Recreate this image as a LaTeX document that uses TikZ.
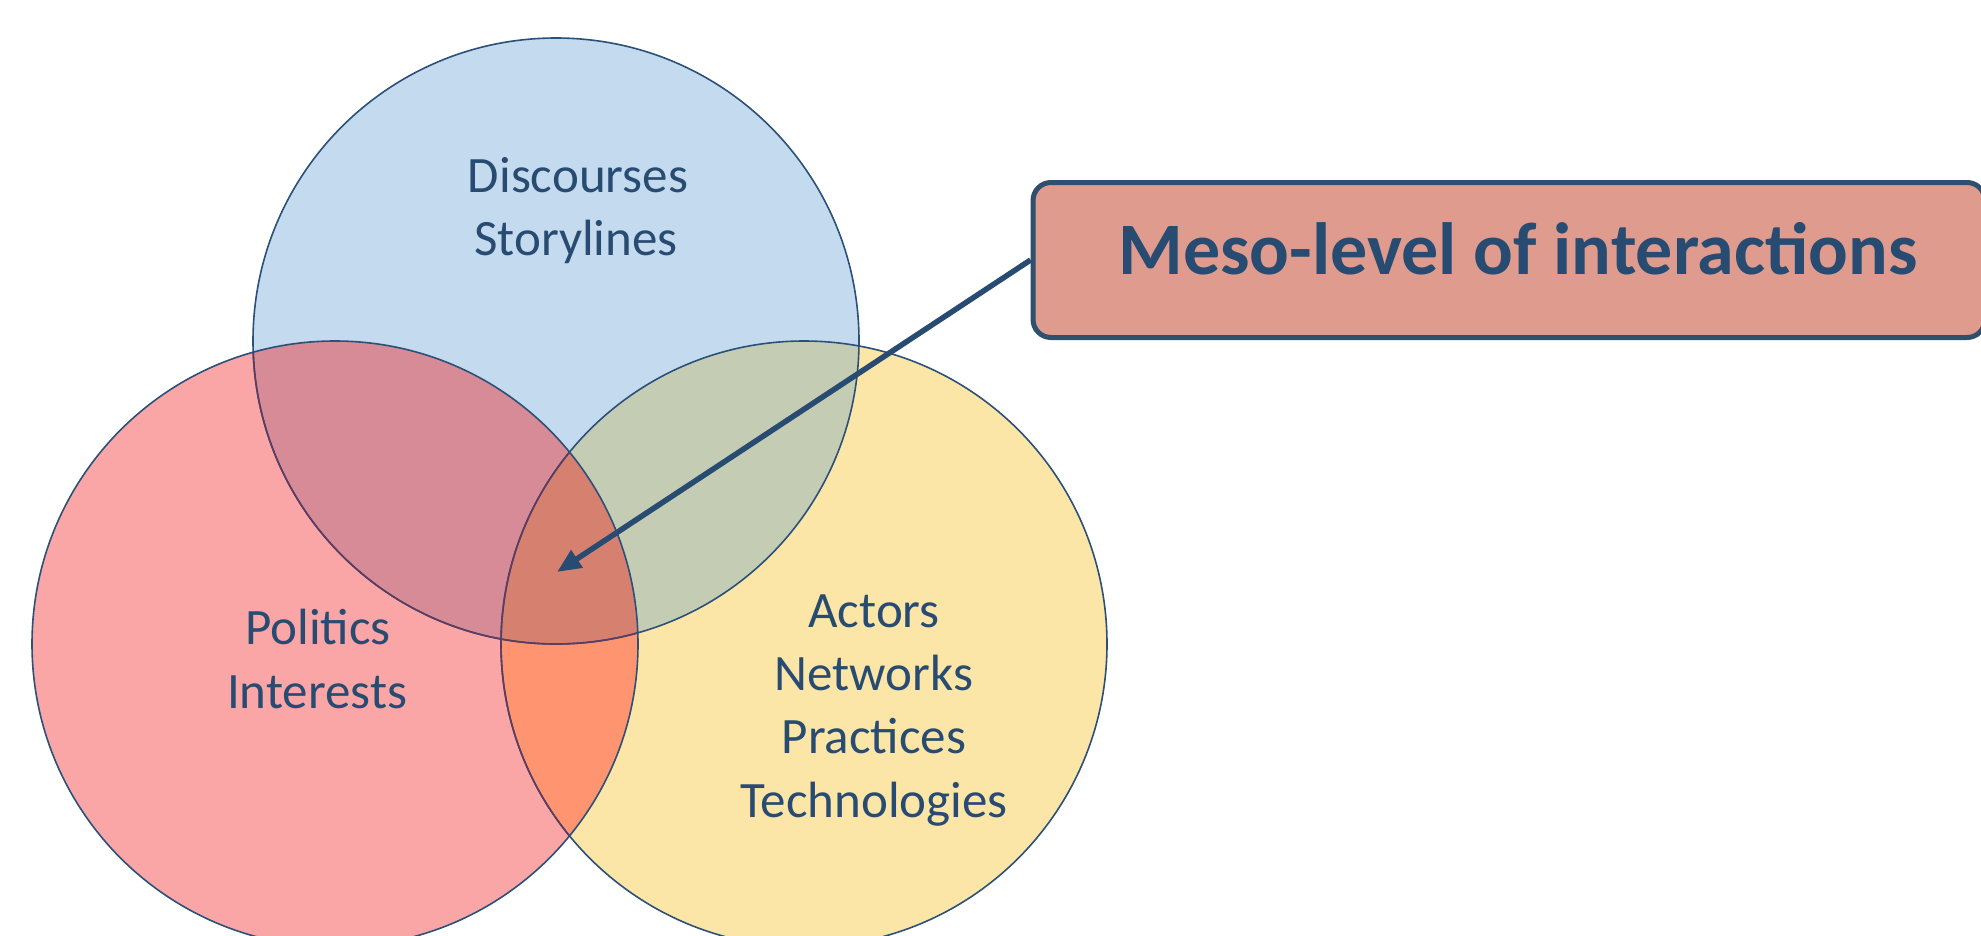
\documentclass[tikz,border=0pt]{standalone}
\usepackage{fontspec}
\setmainfont{Carlito}
\usetikzlibrary{arrows.meta}
\definecolor{cblue}{HTML}{C4DAEE}
\definecolor{cred}{HTML}{FAA6A6}
\definecolor{cyel}{HTML}{FBE5A7}
\definecolor{cbr}{HTML}{D68B97}
\definecolor{cby}{HTML}{C4CCB4}
\definecolor{cry}{HTML}{FE9570}
\definecolor{cbry}{HTML}{D6816F}
\definecolor{edge}{HTML}{2B5079}
\definecolor{edgep}{HTML}{5E3B60}
\definecolor{txt}{HTML}{284B72}
\definecolor{boxfill}{HTML}{DF9C8E}
\definecolor{boxedge}{HTML}{2F4F6E}
\tikzset{
  lbl/.style={font=\fontsize{51}{63}\selectfont, text=txt, anchor=base, inner sep=0pt},
  ring/.style={line width=1.6pt},
  callout/.style={draw=boxedge, fill=boxfill, line width=5pt, rounded corners=18pt,
     minimum width=952pt, minimum height=155pt, inner sep=0pt},
  pointer/.style={draw=txt, line width=5.5pt, -{Triangle[length=24pt,width=20pt]}}
}
\begin{document}
\begin{tikzpicture}[x=1pt,y=-1pt]
\useasboundingbox (0,0) rectangle (1981,935);
\def\CB{(556,341) circle[radius=303pt]}
\def\CR{(335,644) circle[radius=303pt]}
\def\CY{(804,644) circle[radius=303pt]}
\begin{scope}
  \clip (0,0) rectangle (1981,935);
  \fill[cblue] \CB;
  \fill[cyel] \CY;
  \fill[cred] \CR;
  \begin{scope}\clip \CB; \fill[cby] \CY; \fill[cbr] \CR; \end{scope}
  \begin{scope}\clip \CR; \fill[cry] \CY; \end{scope}
  \begin{scope}\clip \CB; \clip \CR; \fill[cbry] \CY; \end{scope}
  \draw[ring, edge] \CB;
  \draw[ring, edge] \CY;
  \begin{scope}\clip \CR; \draw[ring, edgep] \CB; \draw[ring, edgep] \CY; \end{scope}
  \draw[ring, edge] \CR;
\end{scope}

\node[lbl] (d1) at (578,192) {Discourses};
\node[lbl] (d2) at (576,255) {Storylines};
\node[lbl] (p1) at (318,644) {Politics};
\node[lbl] (p2) at (317,708) {Interests};
\node[lbl] (a1) at (874,627) {Actors};
\node[lbl] (a2) at (874,690) {Networks};
\node[lbl] (a3) at (874,753) {Practices};
\node[lbl] (a4) at (874,817) {Technologies};

\node[callout] (box) at (1509,260) {};
\node[font=\fontsize{74}{88}\selectfont\bfseries, text=txt, anchor=base, inner sep=0pt] (title) at (1518,274) {Meso-level of interactions};
\coordinate (tip) at (557,572);
\draw[pointer] (box.west) -- (tip);
\end{tikzpicture}
\end{document}
